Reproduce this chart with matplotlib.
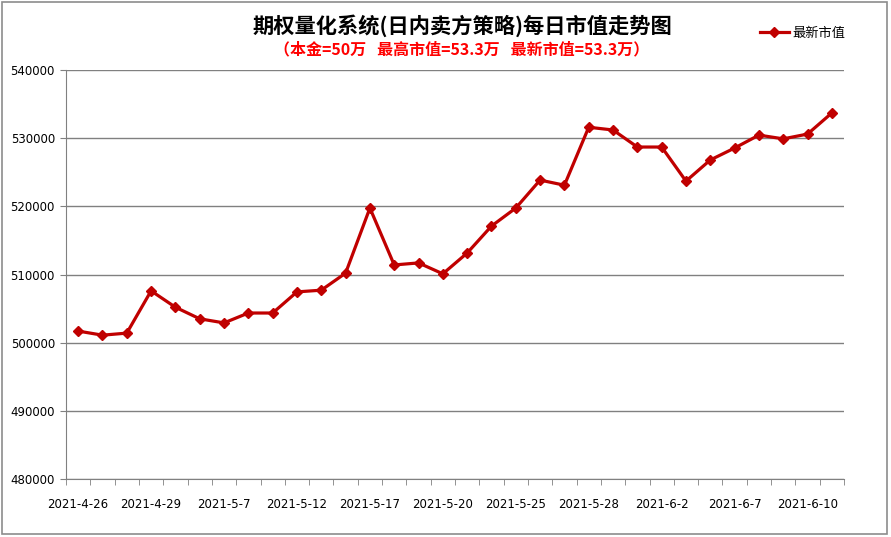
import numpy as np
import matplotlib.pyplot as plt
from matplotlib.patches import Rectangle

plt.rcParams['font.family'] = ['Noto Sans CJK SC', 'DejaVu Sans']

# trading days 2021-4-26 .. 2021-6-11
dates = ['2021-4-26', '2021-4-27', '2021-4-28', '2021-4-29', '2021-4-30', '2021-5-6',
         '2021-5-7', '2021-5-10', '2021-5-11', '2021-5-12', '2021-5-13', '2021-5-14',
         '2021-5-17', '2021-5-18', '2021-5-19', '2021-5-20', '2021-5-21', '2021-5-24',
         '2021-5-25', '2021-5-26', '2021-5-27', '2021-5-28', '2021-5-31', '2021-6-1',
         '2021-6-2', '2021-6-3', '2021-6-4', '2021-6-7', '2021-6-8', '2021-6-9',
         '2021-6-10', '2021-6-11']
values = [501700, 501100, 501400, 507600, 505200, 503500, 502900, 504350, 504350,
          507450, 507700, 510200, 519750, 511400, 511700, 510100, 513150, 517100,
          519750, 523850, 523100, 531600, 531200, 528700, 528700, 523700, 526800,
          528550, 530450, 529900, 530600, 533700]
yticks = np.arange(480000, 540001, 10000)

fig = plt.figure(figsize=(8.91, 5.37), dpi=100)
fig.patches.append(Rectangle((0.002, 0.006), 0.994, 0.99, transform=fig.transFigure,
                             fill=False, edgecolor='#8c8c8c', lw=1.2))
ax = fig.add_axes([66/891, 1 - 479/537, (844-66)/891, (479-70)/537])

x = np.arange(len(values))
ax.plot(x, values, color='#C00000', lw=2.3, marker='D', ms=5.5, label='最新市值')

ax.set_xlim(-0.5, len(values) - 0.5)
ax.set_ylim(480000, 540000)
ax.set_yticks(yticks)
ax.set_yticklabels([str(v) for v in yticks], fontsize=8.5, family='DejaVu Sans')
ax.set_xticks(x[::3])
ax.set_xticklabels(dates[::3], fontsize=8.5, family='DejaVu Sans')
ax.set_xticks(np.arange(-0.5, len(values)), minor=True)
ax.tick_params(axis='x', which='major', length=0, pad=14)
ax.tick_params(axis='x', which='minor', length=4, color='#808080')
ax.tick_params(axis='y', length=4, color='#808080', pad=4)
ax.grid(axis='y', color='#808080', lw=1)
ax.set_axisbelow(True)
for s in ['top', 'right']:
    ax.spines[s].set_visible(False)
for s in ['left', 'bottom']:
    ax.spines[s].set_color('#808080')

fig.text(462/891, 1 - 26/537, '期权量化系统(日内卖方策略)每日市值走势图', ha='center', va='center',
         fontsize=15.3, fontweight='bold')
fig.text(462/891, 1 - 49/537, '（本金=50万   最高市值=53.3万   最新市值=53.3万）', ha='center',
         va='center', fontsize=11.5, fontweight='bold', color='red')

ax.legend(loc='upper left', bbox_to_anchor=(748/891, 1 - 15/537), bbox_transform=fig.transFigure,
          frameon=False, fontsize=9.5, handlelength=2.2, handletextpad=0.3)

plt.savefig('out.png', dpi=100)
